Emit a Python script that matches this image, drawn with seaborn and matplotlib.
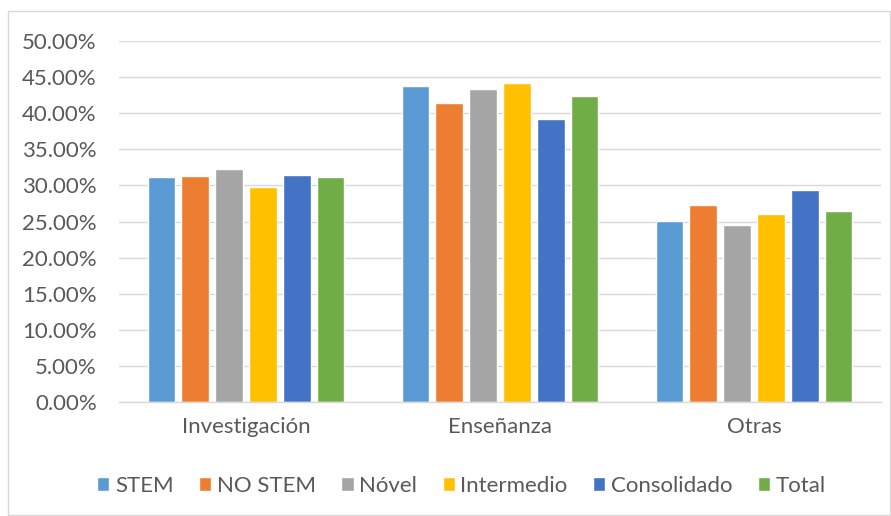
import matplotlib
matplotlib.use("Agg")
import matplotlib.pyplot as plt
from matplotlib.patches import Rectangle
from matplotlib.ticker import PercentFormatter
import seaborn as sns
import pandas as pd

categories = ["Investigación", "Enseñanza", "Otras"]
groups = ["STEM", "NO STEM", "Nóvel", "Intermedio", "Consolidado", "Total"]
stem = [0.312, 0.4375, 0.251]
no_stem = [0.313, 0.414, 0.273]
novel = [0.3225, 0.433, 0.2445]
intermedio = [0.298, 0.442, 0.2605]
consolidado = [0.315, 0.392, 0.293]
total = [0.312, 0.424, 0.264]
colors = ["#5B9BD5", "#ED7D31", "#A5A5A5", "#FFC000", "#4472C4", "#70AD47"]

series = [stem, no_stem, novel, intermedio, consolidado, total]
rows = []
for g, vals in zip(groups, series):
    for c, v in zip(categories, vals):
        rows.append({"cat": c, "grupo": g, "valor": v})
df = pd.DataFrame(rows)

sns.set_theme(style="white")
plt.rcParams["font.family"] = ["Lato", "DejaVu Sans"]
text_color = "#595959"
fs = 16

fig = plt.figure(figsize=(8.91, 5.16), dpi=100)
ax = fig.add_axes([119 / 891, 1 - 402 / 516, 762 / 891, 361 / 516])

sns.barplot(data=df, x="cat", y="valor", hue="grupo", order=categories,
            hue_order=groups, palette=colors, width=0.8, gap=0.19,
            saturation=1, errorbar=None, ax=ax, legend=True)

ax.set_ylim(0, 0.5)
ax.set_yticks([i * 0.05 for i in range(11)])
ax.yaxis.set_major_formatter(PercentFormatter(1.0, decimals=2))
ax.set_xlim(-0.5, 2.5)
ax.set_xlabel("")
ax.set_ylabel("")
ax.grid(axis="y", color="#D9D9D9", linewidth=1.0)
ax.set_axisbelow(True)
for s in ["top", "right", "left"]:
    ax.spines[s].set_visible(False)
ax.spines["bottom"].set_color("#D9D9D9")
ax.spines["bottom"].set_linewidth(1.0)
ax.tick_params(axis="y", length=0, pad=16, labelsize=fs, labelcolor=text_color)
ax.tick_params(axis="x", length=0, pad=11, labelsize=fs, labelcolor=text_color)

handles, labels = ax.get_legend_handles_labels()
ax.get_legend().remove()
fig.legend(handles, labels, loc="center", bbox_to_anchor=(0.518, 1 - 486 / 516),
           ncol=6, frameon=False, fontsize=fs, labelcolor=text_color,
           handlelength=0.55, handleheight=0.55, handletextpad=0.25,
           columnspacing=1.15)

fig.patches.append(Rectangle((8 / 891, 0.002), 1 - 9 / 891, 1 - 12 / 516,
                             transform=fig.transFigure, fill=False,
                             edgecolor="#D9D9D9", linewidth=1.0))

fig.savefig("out.png", dpi=100)
